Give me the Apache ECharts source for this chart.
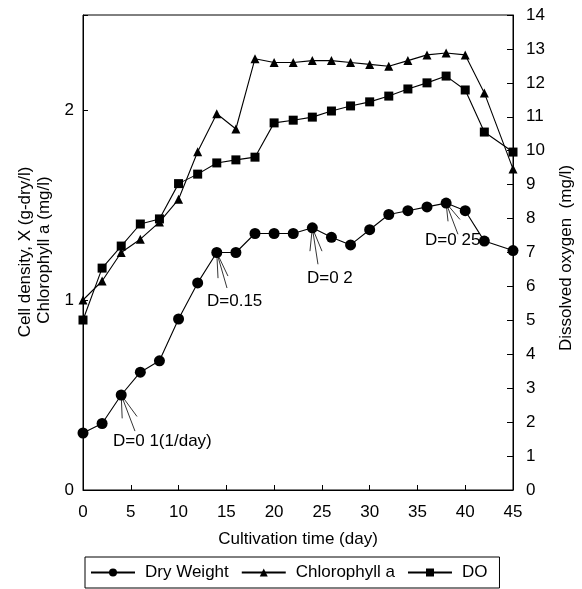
<!DOCTYPE html>
<html><head><meta charset="utf-8">
<script src="https://cdn.jsdelivr.net/npm/echarts@6/dist/echarts.min.js"></script>
<style>html,body{margin:0;padding:0;background:#fff}#c{width:582px;height:589px}</style>
</head><body><div id="c"></div>
<script>
var days = [0,2,4,6,8,10,12,14,16,18,20,22,24,26,28,30,32,34,36,38,40,42,45];
var dryWeight = [0.30,0.35,0.50,0.62,0.68,0.90,1.09,1.25,1.25,1.35,1.35,1.35,1.38,1.33,1.29,1.37,1.45,1.47,1.49,1.51,1.47,1.31,1.26];
var chlorophyll = [1.00,1.10,1.25,1.32,1.41,1.53,1.78,1.98,1.90,2.27,2.25,2.25,2.26,2.26,2.25,2.24,2.23,2.26,2.29,2.30,2.29,2.09,1.69];
var dissolvedO2 = [5.01,6.54,7.19,7.84,7.99,9.03,9.31,9.64,9.73,9.81,10.82,10.90,10.99,11.17,11.32,11.44,11.61,11.82,12.0,12.2,11.79,10.55,9.96];
var xTicks = [0,5,10,15,20,25,30,35,40,45];
var leftTicks = [0,1,2];
var rightTicks = [0,1,2,3,4,5,6,7,8,9,10,11,12,13,14];
var annotations = [
  {text:'D=0 1(1/day)', at:[4,0.50], label:[3.14,0.257], fan:[[4.1,0.377],[5.44,0.31],[5.65,0.387]]},
  {text:'D=0.15', at:[14,1.25], label:[12.98,0.995], fan:[[14.13,1.115],[15.07,1.063],[15.17,1.126]]},
  {text:'D=0 2', at:[24,1.38], label:[23.44,1.115], fan:[[23.75,1.257],[24.59,1.188],[25.01,1.257]]},
  {text:'D=0 25', at:[38,1.51], label:[35.8,1.314], fan:[[38.2,1.414],[39.24,1.346],[39.45,1.424]]}
];

function pairs(arr){ return days.map(function(d,i){return [d,arr[i]];}); }
var FONT = '"Liberation Sans", Arial, sans-serif';
var FS = 17;
var fanLines = [];
annotations.forEach(function(a){ a.fan.forEach(function(e){ fanLines.push([{coord:a.at},{coord:e}]); }); });
var labelPts = annotations.map(function(a){ return {coord:a.label, value:a.text}; });

var chart = echarts.init(document.getElementById('c'));
chart.setOption({
  animation:false,
  textStyle:{fontFamily:FONT},
  grid:{left:83,right:69,top:15,bottom:99,show:true,borderColor:'#000',borderWidth:1,backgroundColor:'transparent'},
  legend:{
    left:85, bottom:1, itemWidth:44, itemHeight:10, itemGap:12,
    borderColor:'#000', borderWidth:1, padding:[7,12,7,5],
    textStyle:{fontSize:FS,color:'#000',fontFamily:FONT,padding:[0,0,0,5]},
    data:['Dry Weight','Chlorophyll a','DO']
  },
  xAxis:{type:'value',min:0,max:45,interval:5,
    name:'Cultivation time (day)',nameLocation:'middle',nameGap:41,
    nameTextStyle:{fontSize:FS,color:'#000',fontFamily:FONT},
    axisLine:{lineStyle:{color:'#000',width:1}},
    axisTick:{inside:true,length:5,lineStyle:{color:'#000'}},
    axisLabel:{fontSize:FS,color:'#000',margin:14,fontFamily:FONT,
      formatter:function(v){return xTicks.indexOf(v)>=0?String(v):'';}},
    splitLine:{show:false}},
  yAxis:[
    {type:'value',min:0,max:2.5,interval:1,position:'left',
     axisLine:{show:true,lineStyle:{color:'#000',width:1}},
     axisTick:{show:true,inside:true,length:5,lineStyle:{color:'#000'}},
     axisLabel:{fontSize:FS,color:'#000',margin:9,fontFamily:FONT,
       formatter:function(v){return leftTicks.indexOf(v)>=0?String(v):'';}},
     splitLine:{show:false}},
    {type:'value',min:0,max:14,interval:1,position:'right',
     axisLine:{show:true,lineStyle:{color:'#000',width:1}},
     axisTick:{show:true,inside:true,length:6,lineStyle:{color:'#000'}},
     axisLabel:{fontSize:FS,color:'#000',margin:13,fontFamily:FONT,
       formatter:function(v){return rightTicks.indexOf(v)>=0?String(v):'';}},
     splitLine:{show:false}}
  ],
  graphic:[
    {type:'text',x:25,y:252,rotation:Math.PI/2,style:{text:'Cell density, X (g-dry/l)',fontSize:FS,fill:'#000',fontFamily:FONT,align:'center',verticalAlign:'middle'}},
    {type:'text',x:44,y:250,rotation:Math.PI/2,style:{text:'Chlorophyll a (mg/l)',fontSize:FS,fill:'#000',fontFamily:FONT,align:'center',verticalAlign:'middle'}},
    {type:'text',x:566,y:258,rotation:Math.PI/2,style:{text:'Dissolved oxygen  (mg/l)',fontSize:FS,fill:'#000',fontFamily:FONT,align:'center',verticalAlign:'middle'}}
  ],
  series:[
    {name:'Dry Weight',type:'line',yAxisIndex:0,data:pairs(dryWeight),
     symbol:'circle',symbolSize:11,itemStyle:{color:'#000'},lineStyle:{color:'#000',width:1.1},
     markLine:{silent:true,symbol:['none','none'],animation:false,
       lineStyle:{color:'#000',width:0.8,type:'solid'},label:{show:false},data:fanLines},
     markPoint:{silent:true,symbol:'circle',symbolSize:0,
       label:{show:true,position:'right',distance:0,fontSize:FS,color:'#000',fontFamily:FONT,formatter:function(p){return p.value;}},
       data:labelPts}},
    {name:'Chlorophyll a',type:'line',yAxisIndex:0,data:pairs(chlorophyll),
     symbol:'triangle',symbolSize:9,itemStyle:{color:'#000'},lineStyle:{color:'#000',width:1.1}},
    {name:'DO',type:'line',yAxisIndex:1,data:pairs(dissolvedO2),
     symbol:'rect',symbolSize:9,itemStyle:{color:'#000'},lineStyle:{color:'#000',width:1.1}}
  ]
});
</script></body></html>
